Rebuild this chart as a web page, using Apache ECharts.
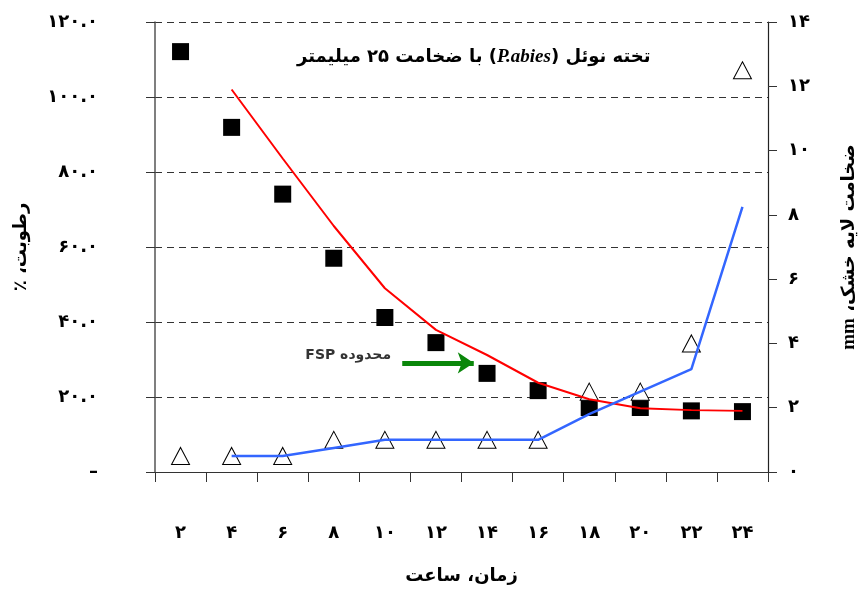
<!DOCTYPE html>
<html>
<head>
<meta charset="utf-8">
<script src="https://cdn.jsdelivr.net/npm/echarts@6/dist/echarts.min.js"></script>
<style>
  html, body { margin: 0; padding: 0; background: #fff; }
  #box { width: 863px; height: 589px; }
</style>
</head>
<body>
<div id="box"></div>
<script>
var hours = [2, 4, 6, 8, 10, 12, 14, 16, 18, 20, 22, 24];
// رطوبت (%) - نقاط اندازه گیری و منحنی
var moisture = [112.1, 91.9, 74.1, 57.0, 41.2, 34.5, 26.3, 21.7, 17.2, 17.2, 16.3, 16.1];
var moistureFit = ['-', 102.0, 83.6, 65.6, 49.0, 37.9, 31.2, 23.8, 19.4, 17.0, 16.5, 16.3];
// ضخامت لایه خشک (mm)
var dryLayer = [0.5, 0.5, 0.5, 1.0, 1.0, 1.0, 1.0, 1.0, 2.5, 2.5, 4.0, 12.5];
var dryLayerFit = ['-', 0.5, 0.5, 0.75, 1.0, 1.0, 1.0, 1.0, 1.8, 2.5, 3.2, 8.25];
// FSP arrow (category index, moisture)
var fspArrow = [[4.34, 29.1], [5.74, 29.1]];
var fspLabelAt = [[4.22, 31.0]];

var faDigits = '۰۱۲۳۴۵۶۷۸۹';
function fa(s) {
  return String(s).replace(/[0-9]/g, function(d) { return faDigits[+d]; });
}

var arFont = 'DejaVu Sans';
var chart = echarts.init(document.getElementById('box'));

var option = {
  animation: false,
  title: {
    text: '{a|با ضخامت ۲۵ میلیمتر} {a|(}{c|P.abies}{a|)} {a|تخته نوئل}',
    left: 292,
    top: 43,
    textStyle: {
      fontSize: 18,
      fontWeight: 'bold',
      color: '#000',
      fontFamily: arFont,
      rich: {
        a: { fontSize: 18, fontWeight: 'bold', fontFamily: arFont, color: '#000' },
        c: { fontSize: 19, fontWeight: 'bold', fontStyle: 'italic', fontFamily: 'Liberation Serif', color: '#000' }
      }
    }
  },
  grid: { left: 155, right: 95, top: 22, bottom: 117, outerBoundsMode: 'none' },
  xAxis: [{
    type: 'category',
    data: hours.map(fa),
    boundaryGap: true,
    axisLine: { lineStyle: { color: '#333', width: 1.2 } },
    axisTick: { show: true, length: 10, lineStyle: { color: '#333' } },
    axisLabel: { margin: 52, fontSize: 18, fontWeight: 'bold', color: '#000', fontFamily: arFont },
    splitLine: { show: false },
    name: 'زمان، ساعت',
    nameLocation: 'middle',
    nameGap: 95,
    nameTextStyle: { fontSize: 18, fontWeight: 'bold', color: '#000', fontFamily: arFont }
  }, {
    type: 'value',
    min: -0.5,
    max: 11.5,
    show: false
  }],
  yAxis: [{
    type: 'value',
    position: 'left',
    min: 0,
    max: 120,
    interval: 20,
    axisLine: { show: true, onZero: false, lineStyle: { color: '#555', width: 1.5 } },
    axisTick: { show: true, length: 9, lineStyle: { color: '#333' } },
    axisLabel: {
      margin: 57,
      fontSize: 18,
      fontWeight: 'bold',
      color: '#000',
      fontFamily: arFont,
      formatter: function(v) { return v === 0 ? '–' : fa(v.toFixed(1)); }
    },
    splitLine: { show: true, lineStyle: { color: '#333', type: [7, 5], width: 1 } },
    name: '٪ ،رطوبت',
    nameLocation: 'middle',
    nameRotate: 90,
    nameGap: 125,
    nameTextStyle: { fontSize: 18, fontWeight: 'bold', color: '#000', fontFamily: arFont }
  }, {
    type: 'value',
    position: 'right',
    min: 0,
    max: 14,
    interval: 2,
    axisLine: { show: true, onZero: false, lineStyle: { color: '#222', width: 1.2 } },
    axisTick: { show: true, length: 9, lineStyle: { color: '#333' } },
    axisLabel: {
      margin: 20,
      fontSize: 18,
      fontWeight: 'bold',
      color: '#000',
      fontFamily: arFont,
      formatter: function(v) { return fa(v); }
    },
    splitLine: { show: false },
    name: '{m|mm}{a| ،ضخامت لایه خشک}',
    nameLocation: 'middle',
    nameRotate: 90,
    nameGap: 72,
    nameTextStyle: {
      fontSize: 18,
      fontWeight: 'bold',
      color: '#000',
      fontFamily: arFont,
      rich: {
        m: { fontSize: 19, fontWeight: 'bold', fontFamily: 'Liberation Serif', color: '#000' },
        a: { fontSize: 18, fontWeight: 'bold', fontFamily: arFont, color: '#000' }
      }
    }
  }],
  series: [{
    name: 'moisture',
    type: 'scatter',
    data: moisture,
    symbol: 'rect',
    symbolSize: 17,
    itemStyle: { color: '#000', opacity: 1 },
    z: 2
  }, {
    name: 'dry layer',
    type: 'scatter',
    yAxisIndex: 1,
    data: dryLayer,
    symbol: 'triangle',
    symbolSize: [18, 17],
    itemStyle: { color: '#fff', borderColor: '#000', borderWidth: 1, opacity: 1 },
    z: 3
  }, {
    name: 'moisture fit',
    type: 'line',
    data: moistureFit,
    symbol: 'none',
    lineStyle: { color: '#ff0000', width: 2 },
    z: 4
  }, {
    name: 'dry layer fit',
    type: 'line',
    yAxisIndex: 1,
    data: dryLayerFit,
    symbol: 'none',
    lineStyle: { color: '#3366ff', width: 2.5 },
    z: 4
  }, {
    name: 'fsp arrow',
    type: 'lines',
    coordinateSystem: 'cartesian2d',
    xAxisIndex: 1,
    yAxisIndex: 0,
    symbol: ['none', 'arrow'],
    symbolSize: 16,
    lineStyle: { color: '#0a870a', width: 5, opacity: 1 },
    data: [{ coords: fspArrow }],
    z: 5
  }, {
    name: 'fsp label',
    type: 'scatter',
    xAxisIndex: 1,
    yAxisIndex: 0,
    data: fspLabelAt,
    symbolSize: 0,
    label: {
      show: true,
      position: 'left',
      formatter: 'FSP محدوده',
      fontSize: 14,
      fontWeight: 'bold',
      color: '#000',
      fontFamily: arFont
    },
    z: 5
  }]
};

chart.setOption(option);
</script>
</body>
</html>
